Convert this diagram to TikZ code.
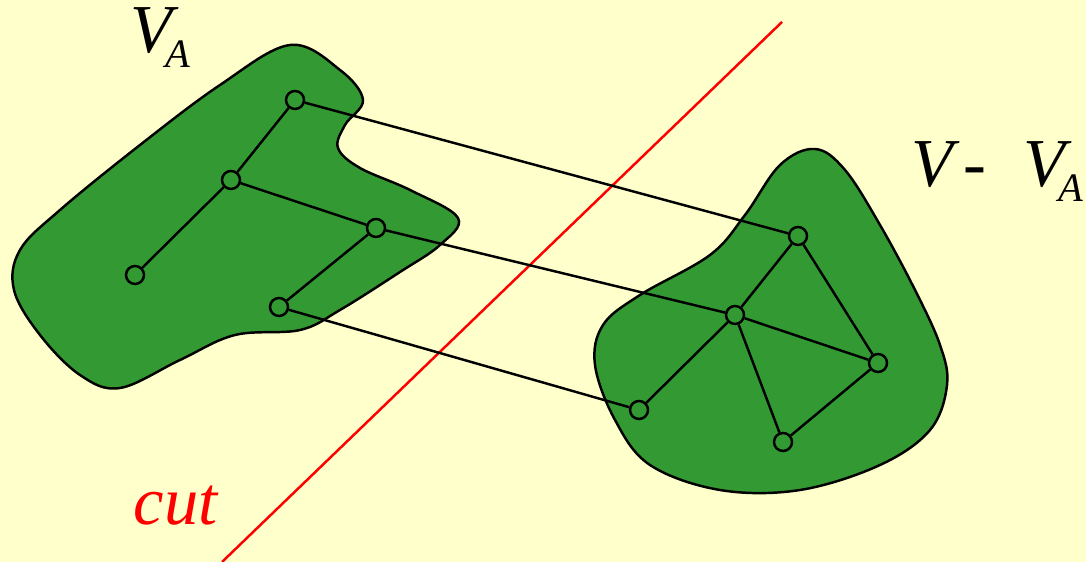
\documentclass[tikz,border=0pt]{standalone}
\usepackage{fontspec}
\setmainfont{Liberation Serif}
\usepackage{tikz}
\definecolor{paper}{HTML}{FFFFCC}
\definecolor{blobgreen}{HTML}{339933}

\begin{document}
\begin{tikzpicture}[x=0.01cm, y=-0.01cm,
    vtx/.style={circle, draw, line width=0.7pt, fill=blobgreen, minimum size=0.18cm, inner sep=0pt},
    blob/.style={draw, line width=0.7pt, fill=blobgreen},
    edge/.style={line width=0.7pt},
    lbl/.style={font=\fontsize{19.5}{22}\selectfont\itshape, inner sep=0pt, anchor=base west}]
    \fill[paper] (0,0) rectangle (1086,562);
    \useasboundingbox (0,0) rectangle (1086,562);
    % the two vertex sets
    \draw[blob] plot[smooth cycle, tension=0.6] coordinates {(290,45) (340,70) (363,100) (345,125) (338,148) (360,168) (410,190) (458,218) (440,245) (400,272) (340,310) (300,330) (235,335) (180,360) (120,388) (80,375) (40,335) (14,290) (20,250) (60,210) (140,145) (220,85)};
    \draw[blob] plot[smooth cycle, tension=0.6] coordinates {(815,149) (845,170) (880,225) (915,290) (940,345) (947,385) (930,430) (880,465) (800,490) (720,490) (650,465) (615,420) (595,365) (603,325) (640,295) (710,255) (745,215) (780,165)};
    % the cut
    \draw[red, line width=0.7pt] (782,22) -- (222,562);
    % vertices of V_A
    \node[vtx] (a1) at (295,100) {};
    \node[vtx] (a2) at (231,180) {};
    \node[vtx] (a3) at (376,228) {};
    \node[vtx] (a4) at (135,275) {};
    \node[vtx] (a5) at (279,307) {};
    % vertices of V - V_A
    \node[vtx] (b1) at (798,236) {};
    \node[vtx] (b2) at (735,315) {};
    \node[vtx] (b3) at (878,363) {};
    \node[vtx] (b4) at (639,410) {};
    \node[vtx] (b5) at (783,442) {};
    % edges
    \draw[edge] (a1) -- (a2);
    \draw[edge] (a2) -- (a4);
    \draw[edge] (a2) -- (a3);
    \draw[edge] (a3) -- (a5);
    \draw[edge] (b1) -- (b2);
    \draw[edge] (b1) -- (b3);
    \draw[edge] (b2) -- (b3);
    \draw[edge] (b2) -- (b4);
    \draw[edge] (b2) -- (b5);
    \draw[edge] (b5) -- (b3);
    % edges crossing the cut
    \draw[edge] (a1) -- (b1);
    \draw[edge] (a3) -- (b2);
    \draw[edge] (a5) -- (b4);
    % labels
    \node[lbl] (va) at (130,53) {V\kern-2pt\raisebox{-4pt}{\fontsize{11.5}{13}\selectfont A}};
    \node[lbl, anchor=base east] (vva) at (1084,187) {V\hspace{0.15em}-\hspace{0.55em}V\kern-2pt\raisebox{-4pt}{\fontsize{11.5}{13}\selectfont A}};
    \node[lbl, red] (cutlbl) at (133,525) {cut};
\end{tikzpicture}
\end{document}
